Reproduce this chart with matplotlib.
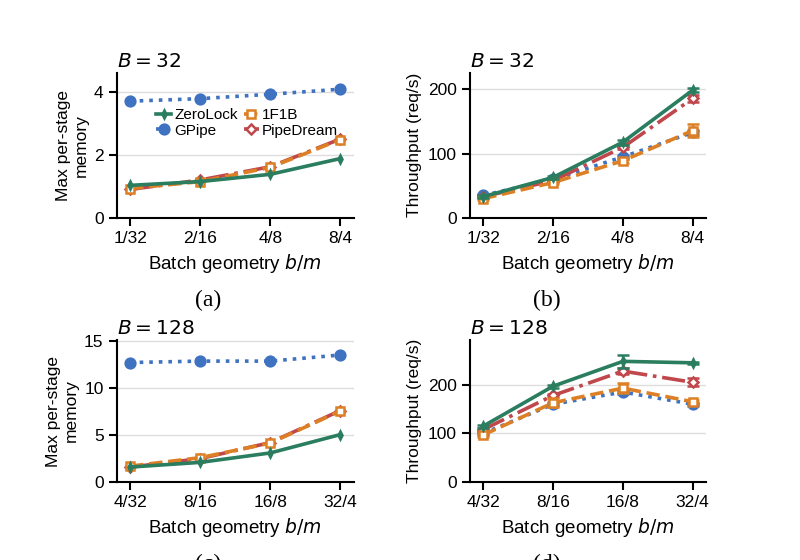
import matplotlib
matplotlib.use("Agg")
import matplotlib.pyplot as plt
import numpy as np

plt.rcParams['font.family'] = ['Liberation Sans', 'DejaVu Sans']
plt.rcParams['mathtext.fontset'] = 'dejavusans'

methods = ["ZeroLock", "GPipe", "1F1B", "PipeDream"]
geom_32 = ["1/32", "2/16", "4/8", "8/4"]
geom_128 = ["4/32", "8/16", "16/8", "32/4"]

# memory, B=32
mem_32 = {
    "ZeroLock": [1.03, 1.15, 1.38, 1.88],
    "GPipe": [3.70, 3.78, 3.92, 4.08],
    "1F1B": [0.93, 1.15, 1.60, 2.48],
    "PipeDream": [0.90, 1.20, 1.62, 2.50],
}
# throughput, B=32
thr_32 = {
    "ZeroLock": [33, 63, 118, 199],
    "GPipe": [35, 60, 95, 133],
    "1F1B": [30, 55, 89, 136],
    "PipeDream": [33, 58, 110, 186],
}
thr_32_err = {
    "ZeroLock": [2, 2, 4, 3],
    "GPipe": [2, 2, 3, 4],
    "1F1B": [2, 2, 3, 10],
    "PipeDream": [2, 2, 3, 6],
}
# memory, B=128
mem_128 = {
    "ZeroLock": [1.60, 2.10, 3.10, 5.05],
    "GPipe": [12.70, 12.85, 12.85, 13.50],
    "1F1B": [1.70, 2.60, 4.15, 7.55],
    "PipeDream": [1.60, 2.50, 4.20, 7.60],
}
# throughput, B=128
thr_128 = {
    "ZeroLock": [115, 197, 248, 245],
    "GPipe": [100, 160, 185, 160],
    "1F1B": [97, 163, 193, 165],
    "PipeDream": [108, 178, 228, 205],
}
thr_128_err = {
    "ZeroLock": [3, 3, 13, 2],
    "GPipe": [3, 4, 5, 3],
    "1F1B": [4, 9, 10, 3],
    "PipeDream": [3, 4, 6, 8],
}

styles = {
    "ZeroLock": dict(color="#2a7d5f", ls="-", marker="d", ms=4, mfc="#2a7d5f", z=5),
    "GPipe": dict(color="#3f72c0", ls=":", marker="o", ms=7, mfc="#3f72c0", z=3),
    "1F1B": dict(color="#dd8025", ls="--", marker="s", ms=5.5, mfc="white", z=4),
    "PipeDream": dict(color="#c0474c", ls="-.", marker="D", ms=5.5, mfc="white", z=3.5),
}


def draw(ax, data, err, labels, ylim, yticks, ylabel, title):
    x = np.arange(len(labels))
    for m in methods:
        s = styles[m]
        e = err[m] if err is not None else None
        ax.errorbar(x, data[m], yerr=e, color=s["color"], ls=s["ls"], lw=2.6,
                    marker=s["marker"], ms=s["ms"], mfc=s["mfc"], mec=s["color"],
                    mew=1.8, capsize=4, elinewidth=1.6, capthick=1.6,
                    label=m, zorder=s["z"])
    ax.set_xticks(x)
    ax.set_xticklabels(labels)
    ax.set_xlim(-0.19, 3.19)
    ax.set_ylim(*ylim)
    ax.set_yticks(yticks)
    ax.grid(axis="y", color="#dddddd", lw=1)
    ax.set_axisbelow(True)
    for sp in ["top", "right"]:
        ax.spines[sp].set_visible(False)
    for sp in ["left", "bottom"]:
        ax.spines[sp].set_linewidth(1.5)
    ax.tick_params(labelsize=12.5, width=1.5, length=6)
    ax.set_xlabel("Batch geometry $b/m$", fontsize=13.5)
    ax.set_ylabel(ylabel, fontsize=12.5)
    ax.set_title(title, loc="left", fontsize=14.5, pad=4)


fig = plt.figure(figsize=(8, 5.6), dpi=100)
ax_a = fig.add_axes([0.146, 0.611, 0.296, 0.259])
ax_b = fig.add_axes([0.5875, 0.611, 0.295, 0.259])
ax_c = fig.add_axes([0.146, 0.139, 0.296, 0.254])
ax_d = fig.add_axes([0.5875, 0.139, 0.295, 0.254])

draw(ax_a, mem_32, None, geom_32, (0, 4.6), [0, 2, 4], "Max per-stage\nmemory", "$B = 32$")
draw(ax_b, thr_32, thr_32_err, geom_32, (0, 226), [0, 100, 200], "Throughput (req/s)", "$B = 32$")
draw(ax_c, mem_128, None, geom_128, (0, 15.1), [0, 5, 10, 15], "Max per-stage\nmemory", "$B = 128$")
draw(ax_d, thr_128, thr_128_err, geom_128, (0, 292), [0, 100, 200], "Throughput (req/s)", "$B = 128$")

ax_a.legend(loc="upper left", bbox_to_anchor=(0.12, 0.83), ncol=2, frameon=False,
            fontsize=11, handlelength=1.0, handletextpad=0.2, columnspacing=0.4,
            labelspacing=0.1, borderpad=0.2)

for lab, xp, yp in [("(a)", 208, 300), ("(b)", 547, 300), ("(c)", 208, 564), ("(d)", 547, 564)]:
    fig.text(xp / 800, 1 - yp / 560, lab, ha="center", va="center",
             fontsize=17, family=["Liberation Serif", "DejaVu Serif"])

fig.savefig("out.png", dpi=100)
